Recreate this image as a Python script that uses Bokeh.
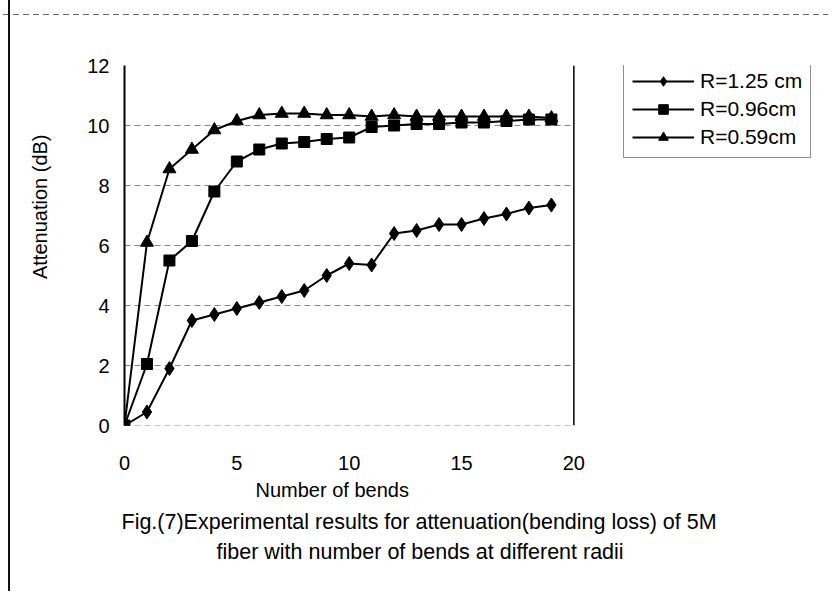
from bokeh.plotting import figure
from bokeh.models import Range1d, Legend, LegendItem, FixedTicker, Title, Span
from bokeh.embed import file_html
from bokeh.resources import INLINE

# ---- data ----
bends = list(range(20))
r125 = [0, 0.45, 1.9, 3.5, 3.7, 3.9, 4.1, 4.3, 4.5, 5.0, 5.4, 5.35, 6.4, 6.5, 6.7, 6.7, 6.9, 7.05, 7.25, 7.35]
r096 = [0, 2.05, 5.5, 6.15, 7.8, 8.8, 9.2, 9.4, 9.45, 9.55, 9.6, 9.95, 10.0, 10.05, 10.05, 10.1, 10.1, 10.15, 10.2, 10.2]
r059 = [0, 6.1, 8.55, 9.2, 9.85, 10.15, 10.35, 10.4, 10.4, 10.35, 10.35, 10.3, 10.35, 10.3, 10.3, 10.3, 10.3, 10.3, 10.3, 10.25]
labels = ["R=1.25 cm", "R=0.96cm", "R=0.59cm"]
x_ticks = [0, 5, 10, 15, 20]
y_ticks = [0, 2, 4, 6, 8, 10, 12]
x_title = "Number of bends"
y_title = "Attenuation (dB)"
caption1 = "Fig.(7)Experimental results for attenuation(bending loss) of 5M"
caption2 = "fiber with number of bends at different radii"

FONT = "Liberation Sans"
SHIFT = 7                     # figure is shifted left by this many px
W, H = 835, 591
B_LEFT, B_TOP, B_BOTTOM = 130, 65, 166
AXIS_PX = 450                 # pixel width of the 0..20 axis span
frame_w = W - B_LEFT
x_end = x_ticks[-1] * frame_w / AXIS_PX

p = figure(width=W, height=H, x_range=Range1d(x_ticks[0], x_end), y_range=Range1d(y_ticks[0], y_ticks[-1]),
           output_backend="svg", toolbar_location=None,
           min_border_left=B_LEFT, min_border_right=0, min_border_top=B_TOP, min_border_bottom=B_BOTTOM)
p.border_fill_alpha = 0
p.styles = {
    "margin-left": f"-{SHIFT}px",
    "background-image": "linear-gradient(#111, #111), "
                        "repeating-linear-gradient(to right, #666 0px, #666 6px, transparent 6px, transparent 10px)",
    "background-size": "2px 100%, 100% 1px",
    "background-position": f"{8 + SHIFT}px 0px, 0px 14px",
    "background-repeat": "no-repeat, no-repeat",
}
p.outline_line_color = None
p.background_fill_color = "white"

# axes
xa = p.xaxis[0]
xa.ticker = FixedTicker(ticks=x_ticks)
xa.axis_line_color = None
xa.major_tick_line_color = None
xa.minor_tick_line_color = None
xa.major_tick_out = 0
xa.major_label_standoff = 30
xa.major_label_text_font = FONT
xa.major_label_text_font_size = "20px"
xa.major_label_text_color = "black"

ya = p.yaxis[0]
ya.ticker = FixedTicker(ticks=y_ticks)
ya.axis_line_color = "black"
ya.axis_line_width = 2
ya.major_tick_line_color = None
ya.minor_tick_line_color = None
ya.major_tick_out = 0
ya.major_label_standoff = 15
ya.major_label_text_font = FONT
ya.major_label_text_font_size = "20px"
ya.major_label_text_color = "black"

p.xgrid.grid_line_color = None
p.ygrid.grid_line_color = None

# horizontal gridlines only across the 0..20 span, and the right border of the plot area
grid_y = y_ticks[:-1]
p.segment(x0=[x_ticks[0]] * len(grid_y), x1=[x_ticks[-1]] * len(grid_y), y0=grid_y, y1=grid_y,
          line_color="#666666", line_dash="6 4", line_alpha=0.8, line_width=1)
p.add_layout(Span(location=x_ticks[-1], dimension="height", line_color="black", line_width=1.5))

# series
l1 = p.line(bends, r125, line_color="black", line_width=2)
s1 = p.scatter(bends, r125, marker="diamond", size=14, fill_color="black", line_color="black")
l2 = p.line(bends, r096, line_color="black", line_width=2)
s2 = p.scatter(bends, r096, marker="square", size=11, fill_color="black", line_color="black")
l3 = p.line(bends, r059, line_color="black", line_width=2)
s3 = p.scatter(bends, r059, marker="triangle", size=13, fill_color="black", line_color="black")

legend = Legend(items=[LegendItem(label=labels[0], renderers=[l1, s1]),
                       LegendItem(label=labels[1], renderers=[l2, s2]),
                       LegendItem(label=labels[2], renderers=[l3, s3])],
                location=(499, 267))
legend.label_text_font = FONT
legend.label_text_font_size = "21px"
legend.label_text_color = "black"
legend.glyph_width = 62
legend.glyph_height = 24
legend.label_height = 24
legend.label_standoff = 6
legend.spacing = 4
legend.padding = 8
legend.margin = 0
legend.border_line_color = "#222"
legend.border_line_width = 1
legend.background_fill_color = "white"
legend.background_fill_alpha = 1
p.add_layout(legend, "center")

# titles
yt = Title(text=y_title, align="right", offset=69, text_font=FONT,
           text_font_size="20px", text_font_style="normal", text_color="black", standoff=67)
p.add_layout(yt, "left")

xt = Title(text=x_title, align="left", offset=131, text_font=FONT,
           text_font_size="20px", text_font_style="normal", text_color="black", standoff=9)
t1 = Title(text=caption1, align="left", offset=-3, text_font=FONT,
           text_font_size="21.5px", text_font_style="normal", text_color="black", standoff=4)
t2 = Title(text=caption2, align="left", offset=92, text_font=FONT,
           text_font_size="21.5px", text_font_style="normal", text_color="black", standoff=5)
p.add_layout(xt, "below")
p.add_layout(t1, "below")
p.add_layout(t2, "below")

open("out.html", "w").write(file_html(p, INLINE))
